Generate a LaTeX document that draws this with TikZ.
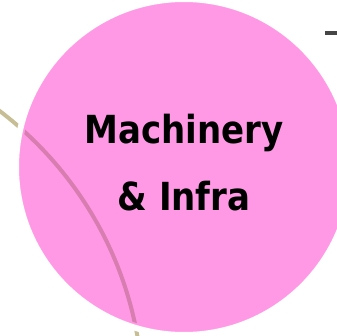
\documentclass[tikz,border=0pt]{standalone}
\usepackage{fontspec}
\newfontfamily\sectorfont[FakeStretch=0.88]{DejaVu Sans}
\usetikzlibrary{positioning}
\definecolor{sectorpink}{RGB}{255,153,230}
\definecolor{ringtan}{RGB}{200,190,150}
\definecolor{ringpink}{RGB}{215,125,175}
\definecolor{linkgray}{RGB}{70,70,70}
\tikzset{
x=0.75pt, y=-0.75pt, % one unit is one pixel of the picture
sector/.style={fill=sectorpink, draw=white, line width=4.5pt}, % the big bubble
ring/.style={line width=3pt}, % the thin orbit behind the bubble
label/.style={font=\sectorfont\bfseries\fontsize{29}{35}\selectfont, anchor=base}, % bubble text
}

\begin{document}
\begin{tikzpicture}
    \useasboundingbox (0,0) rectangle (337,336);
    \coordinate (orbit) at (-220,400);
    \coordinate (hub) at (184,167);
    \coordinate (linkstart) at (325,33);
    \coordinate (linkend) at (337,33);
    % orbit
    \begin{scope}
        \clip (0,0) rectangle (337,336);
        \draw[ring, ringtan] (orbit) circle[radius=363];
    \end{scope}
    % bubble
    \draw[sector] (hub) circle[radius=168];
    \begin{scope}
        \clip (hub) circle[radius=163];
        \draw[ring, ringpink] (orbit) circle[radius=363];
    \end{scope}
    \node[label] (title) at (184,143) {Machinery};
    \node[label] (subtitle) at (184,210) {\& Infra};
    % link to the next bubble
    \draw[linkgray, line width=3pt] (linkstart) -- (linkend);
\end{tikzpicture}
\end{document}
